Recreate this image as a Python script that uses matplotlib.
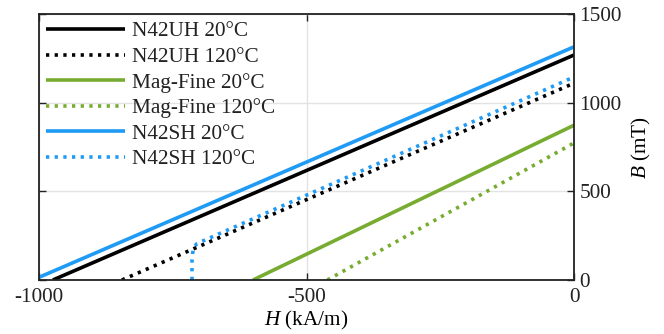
import matplotlib
matplotlib.use("Agg")
import matplotlib.pyplot as plt

plt.rcParams['font.family'] = ['Liberation Serif', 'DejaVu Serif']
plt.rcParams['mathtext.fontset'] = 'custom'
plt.rcParams['mathtext.it'] = 'Liberation Serif:italic'
plt.rcParams['mathtext.rm'] = 'Liberation Serif'
plt.rcParams['axes.unicode_minus'] = False

# Data (H in kA/m, B in mT)
labels = ['N42UH 20°C', 'N42UH 120°C', 'Mag-Fine 20°C', 'Mag-Fine 120°C',
          'N42SH 20°C', 'N42SH 120°C']
n42uh_20_H = [-974, 0]
n42uh_20_B = [0, 1269]
n42uh_120_H = [-845, 0]
n42uh_120_B = [0, 1110]
magfine_20_H = [-600, 0]
magfine_20_B = [0, 873]
magfine_120_H = [-461, 0]
magfine_120_B = [0, 773]
n42sh_20_H = [-1000, 0]
n42sh_20_B = [15, 1315]
n42sh_120_H = [-714, -714, -713, -710, -705, 0]
n42sh_120_B = [0, 110, 150, 185, 205, 1145]

black = '#000000'
green = '#77ac30'
blue = '#1f9bf5'

fs = 15.3

fig = plt.figure(figsize=(6.64, 3.34), dpi=100)
ax = fig.add_axes([0.0587, 0.1617, 0.8058, 0.7963])

lw = 2.6
dot = (0, (0.9, 1.5))
series = [
    (n42uh_20_H, n42uh_20_B, black, '-'),
    (n42uh_120_H, n42uh_120_B, black, dot),
    (magfine_20_H, magfine_20_B, green, '-'),
    (magfine_120_H, magfine_120_B, green, dot),
    (n42sh_20_H, n42sh_20_B, blue, '-'),
    (n42sh_120_H, n42sh_120_B, blue, dot),
]
for (h, b, c, ls), lab in zip(series, labels):
    ax.plot(h, b, color=c, linestyle=ls, lw=lw, label=lab,
            dash_capstyle='butt', solid_capstyle='butt', clip_on=True)

ax.set_xlim(-1000, 0)
ax.set_ylim(0, 1500)
ax.set_xticks([-1000, -500, 0])
ax.set_yticks([0, 500, 1000, 1500])
ax.grid(True, color='#e3e3e3', lw=1.0)
ax.set_axisbelow(True)
ax.yaxis.tick_right()
ax.yaxis.set_label_position('right')
ax.tick_params(direction='in', length=5, width=1.0, labelsize=fs,
               top=True, bottom=True, left=True, right=True,
               labelleft=False, labelright=True, colors='#222222', pad=4)
ax.tick_params(axis='x', pad=6)
for s in ax.spines.values():
    s.set_linewidth(1.3)
    s.set_color('#222222')

ax.set_xlabel('$H$ (kA/m)', fontsize=fs, labelpad=1)
ax.set_ylabel('$B$ (mT)', fontsize=fs, labelpad=6)

leg = ax.legend(loc='upper left', frameon=False, fontsize=fs,
                handlelength=3.7, handletextpad=0.35, labelspacing=0.27,
                borderaxespad=0.15, borderpad=0.2)
for t in leg.get_texts():
    t.set_color('#222222')

fig.savefig('out.png', dpi=100)
